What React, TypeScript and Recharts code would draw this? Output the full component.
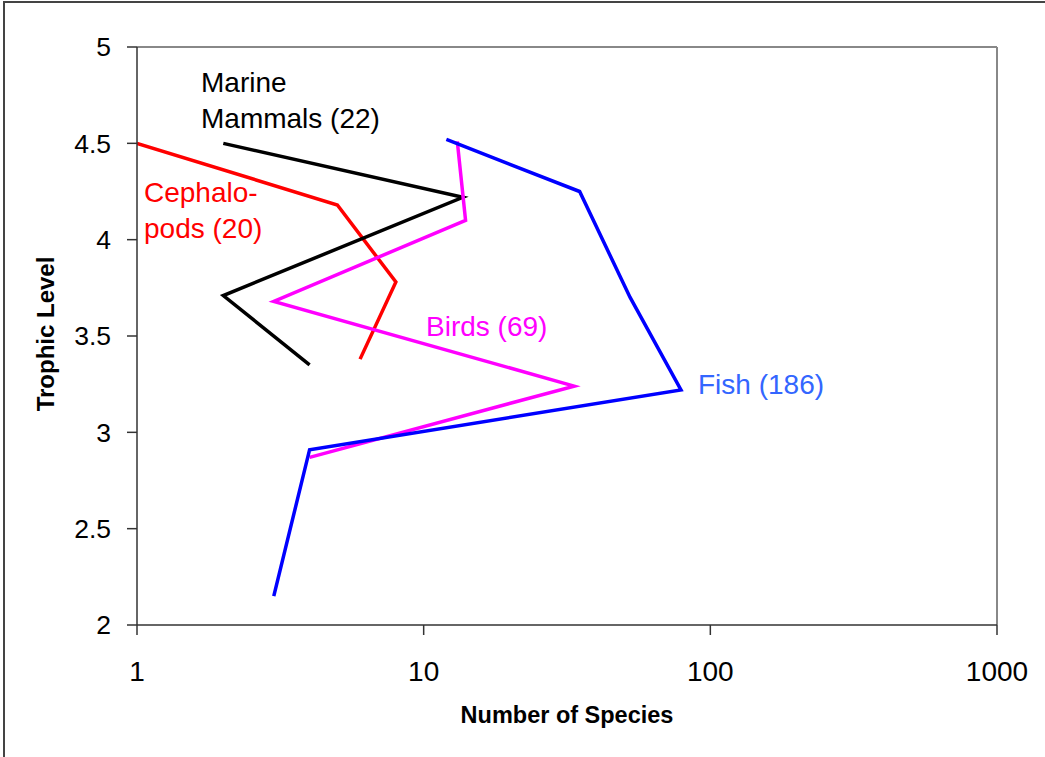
import React from "react";
import { Line, LineChart, ReferenceLine, XAxis, YAxis } from "recharts";

const xTicks = [1, 10, 100, 1000];
const yTicks = [2, 2.5, 3, 3.5, 4, 4.5, 5];

// number of species, trophic level — in the order the lines are drawn
const mammals = [
  { x: 2, y: 4.5 },
  { x: 13.7, y: 4.22 },
  { x: 2, y: 3.71 },
  { x: 4, y: 3.35 },
];
const cephalopods = [
  { x: 1, y: 4.5 },
  { x: 5, y: 4.18 },
  { x: 8, y: 3.78 },
  { x: 6, y: 3.38 },
];
const birds = [
  { x: 13.1, y: 4.51 },
  { x: 14, y: 4.1 },
  { x: 3, y: 3.68 },
  { x: 33.5, y: 3.24 },
  { x: 4, y: 2.87 },
];
const fish = [
  { x: 12, y: 4.52 },
  { x: 35, y: 4.25 },
  { x: 52.5, y: 3.7 },
  { x: 79, y: 3.22 },
  { x: 4, y: 2.91 },
  { x: 3, y: 2.15 },
];

const font = "'Liberation Sans', Arial, sans-serif";

type Note = { lines: string[]; color: string; left: number; top: number };
const notes: Note[] = [
  { lines: ["Marine", "Mammals (22)"], color: "#000000", left: 201, top: 65 },
  { lines: ["Cephalo-", "pods (20)"], color: "#ff0000", left: 144, top: 175 },
  { lines: ["Birds (69)"], color: "#ff00ff", left: 426, top: 309 },
  { lines: ["Fish (186)"], color: "#3366ff", left: 698, top: 367 },
];

const YTitle = (props: any) => {
  const vb = props.viewBox || {};
  const cx = vb.x + 8;
  const cy = vb.y + vb.height / 2 - 2;
  return (
    <text
      x={cx}
      y={cy}
      transform={`rotate(-90, ${cx}, ${cy})`}
      textAnchor="middle"
      dominantBaseline="central"
      fontFamily={font}
      fontWeight="bold"
      fontSize={24}
      fill="#000"
    >
      Trophic Level
    </text>
  );
};

const XTitle = (props: any) => {
  const vb = props.viewBox || {};
  return (
    <text
      x={vb.x + vb.width / 2}
      y={723}
      textAnchor="middle"
      fontFamily={font}
      fontWeight="bold"
      fontSize={23.5}
      fill="#000"
    >
      Number of Species
    </text>
  );
};

export default function App() {
  return (
    <div style={{ position: "relative", width: 1045, height: 757, overflow: "hidden", background: "#fff" }}>
      <style>{`body{margin:0}`}</style>
      <div
        style={{
          position: "absolute",
          left: 3,
          top: 1,
          width: 1100,
          height: 800,
          borderLeft: "2px solid #444",
          borderTop: "2px solid #444",
        }}
      />
      <LineChart
        width={1045}
        height={757}
        margin={{ top: 47, right: 48, bottom: 72, left: 37 }}
        style={{ position: "absolute", left: 0, top: 0, fontFamily: font }}
      >
        <XAxis
          type="number"
          dataKey="x"
          scale="log"
          domain={[1, 1000]}
          ticks={xTicks}
          allowDataOverflow
          height={60}
          tickSize={10}
          tickMargin={26}
          stroke="#333"
          strokeWidth={1.5}
          tick={{ fill: "#000", fontSize: 28, fontFamily: font }}
          label={{ content: XTitle }}
        />
        <YAxis
          type="number"
          dataKey="y"
          domain={[2, 5]}
          ticks={yTicks}
          allowDataOverflow
          width={100}
          tickSize={10}
          tickMargin={16}
          stroke="#333"
          strokeWidth={1.5}
          tick={{ fill: "#000", fontSize: 26.5, fontFamily: font }}
          label={{ content: YTitle }}
        />
        <ReferenceLine y={5} stroke="#888" strokeWidth={2} />
        <ReferenceLine x={1000} stroke="#888" strokeWidth={2} />
        <Line data={cephalopods} dataKey="y" stroke="#ff0000" strokeWidth={3.5} dot={false} isAnimationActive={false} />
        <Line data={mammals} dataKey="y" stroke="#000000" strokeWidth={3.5} dot={false} isAnimationActive={false} />
        <Line data={birds} dataKey="y" stroke="#ff00ff" strokeWidth={3.5} dot={false} isAnimationActive={false} />
        <Line data={fish} dataKey="y" stroke="#0000ff" strokeWidth={3.5} dot={false} isAnimationActive={false} />
      </LineChart>
      {notes.map((n) => (
        <div
          key={n.lines[0]}
          style={{
            position: "absolute",
            left: n.left,
            top: n.top,
            color: n.color,
            fontFamily: font,
            fontSize: 28,
            lineHeight: "36px",
            whiteSpace: "nowrap",
          }}
        >
          {n.lines.map((l) => (
            <div key={l}>{l}</div>
          ))}
        </div>
      ))}
    </div>
  );
}
